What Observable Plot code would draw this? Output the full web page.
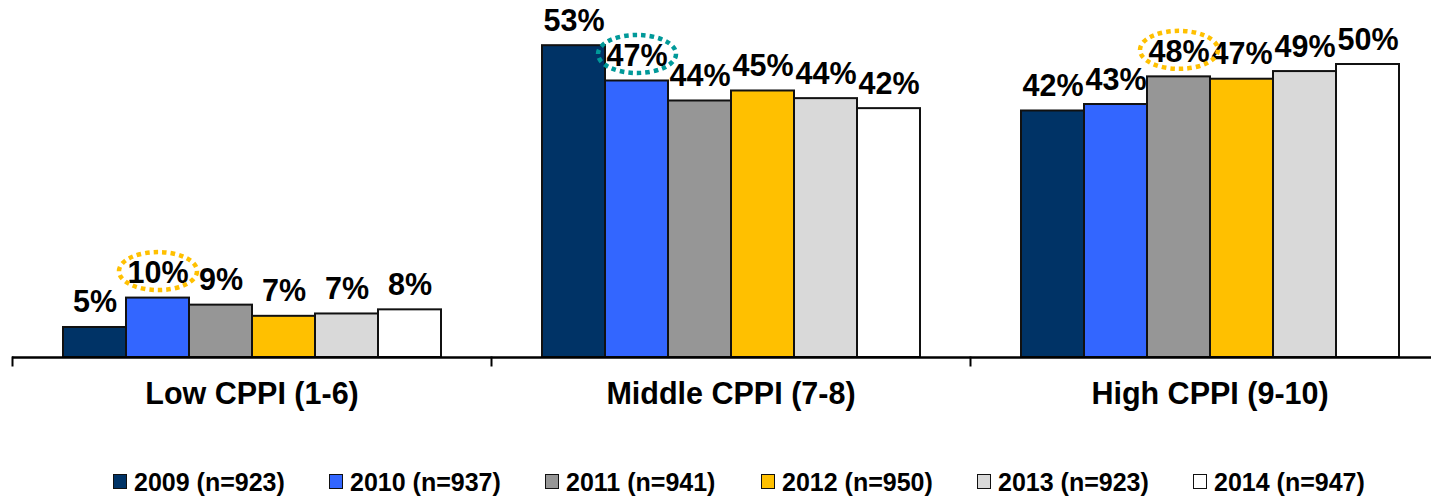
<!DOCTYPE html>
<html>
<head>
<meta charset="utf-8">
<script src="https://cdn.jsdelivr.net/npm/d3@7"></script>
<script src="https://cdn.jsdelivr.net/npm/@observablehq/plot@0.6"></script>
<style>
  html, body { margin: 0; padding: 0; background: #fff; overflow: hidden; width: 1431px; height: 496px; }
  #chart { width: 1431px; overflow: hidden; }
  #chart svg { display: block; max-width: none !important; }
  #legend { display: flex; padding-left: 113px; padding-top: 27px; height: 29px;
    font-family: "Liberation Sans", Arial, sans-serif; font-weight: bold; font-size: 25px; line-height: 22px; color: #000; }
  .item { display: flex; align-items: center; width: 216px; white-space: nowrap; }
  .sw { width: 12px; height: 13px; border: 1.6px solid #111; margin-right: 7px; flex: none; }
</style>
</head>
<body>
<div id="chart"></div>
<div id="legend"></div>
<script>
// ---- data ----
const categories = ["Low CPPI (1-6)", "Middle CPPI (7-8)", "High CPPI (9-10)"];
const years = ["2009", "2010", "2011", "2012", "2013", "2014"];
const legendLabels = ["2009 (n=923)", "2010 (n=937)", "2011 (n=941)", "2012 (n=950)", "2013 (n=923)", "2014 (n=947)"];
const lowValues = [5.1, 10.1, 8.9, 7.0, 7.4, 8.1];
const middleValues = [53.0, 47.0, 43.6, 45.3, 44.0, 42.3];
const highValues = [41.9, 43.0, 47.7, 47.3, 48.6, 49.8];
const highlightCategories = ["Low CPPI (1-6)", "Middle CPPI (7-8)", "High CPPI (9-10)"];
const highlightYears = ["2010", "2010", "2011"];

// ---- styles ----
const yearColors = ["#003366", "#3366FF", "#969696", "#FFC000", "#D9D9D9", "#FFFFFF"];
const highlightColors = ["#FFC000", "#009999", "#FFC000"];

const seriesByCategory = [lowValues, middleValues, highValues];
const data = categories.flatMap((c, ci) =>
  years.map((y, yi) => ({category: c, year: y, value: seriesByCategory[ci][yi], color: yearColors[yi]})));
const highlights = highlightCategories.map((c, i) => {
  const ci = categories.indexOf(c), yi = years.indexOf(highlightYears[i]);
  return {category: c, year: highlightYears[i], value: seriesByCategory[ci][yi], color: highlightColors[i]};
});

const font = "'Liberation Sans', Arial, sans-serif";

const chart = Plot.plot({
  width: 1449,
  height: 440,
  marginLeft: 12,
  marginRight: 0,
  marginTop: 4,
  marginBottom: 83,
  style: {fontFamily: font, color: "#000", background: "#fff", overflow: "visible", maxWidth: "none"},
  fx: {domain: categories, padding: 0, label: null},
  x: {domain: years, paddingInner: 0, paddingOuter: 0.752, axis: null},
  y: {domain: [0, 60], axis: null},
  color: {type: "identity"},
  marks: [
    Plot.barY(data, {fx: "category", x: "year", y: "value", fill: "color", stroke: "#111", strokeWidth: 2}),
    Plot.ruleY([0], {stroke: "#000", strokeWidth: 2.6}),
    Plot.frame({anchor: "left", insetTop: 353, insetBottom: -8, stroke: "#000", strokeWidth: 2}),
    Plot.text(data, {fx: "category", x: "year", y: "value", text: d => Math.round(d.value) + "%",
      dy: -15, lineAnchor: "bottom", fontSize: 30.5, fontWeight: "bold", fill: "#000"}),
    Plot.dot(highlights, {fx: "category", x: "year", y: "value", r: 20, stroke: "color", fill: "none",
      strokeWidth: 4.5, strokeDasharray: "4.5,4", dy: -27,
      render(index, scales, values, dimensions, context, next) {
        const g = next(index, scales, values, dimensions, context);
        g.querySelectorAll("circle").forEach(c => {
          const e = document.createElementNS("http://www.w3.org/2000/svg", "ellipse");
          for (const a of c.attributes) if (a.name !== "r") e.setAttribute(a.name, a.value);
          e.setAttribute("rx", 39);
          e.setAttribute("ry", 19);
          c.replaceWith(e);
        });
        return g;
      }}),
    Plot.axisFx({anchor: "bottom", tickSize: 0, tickPadding: 25, fontSize: 30.5, fontWeight: "bold", label: null})
  ]
});
document.getElementById("chart").appendChild(chart);

const legend = document.getElementById("legend");
legendLabels.forEach((label, i) => {
  const item = document.createElement("div");
  item.className = "item";
  const sw = document.createElement("span");
  sw.className = "sw";
  sw.style.background = yearColors[i];
  const t = document.createElement("span");
  t.textContent = label;
  item.appendChild(sw);
  item.appendChild(t);
  legend.appendChild(item);
});
</script>
</body>
</html>
